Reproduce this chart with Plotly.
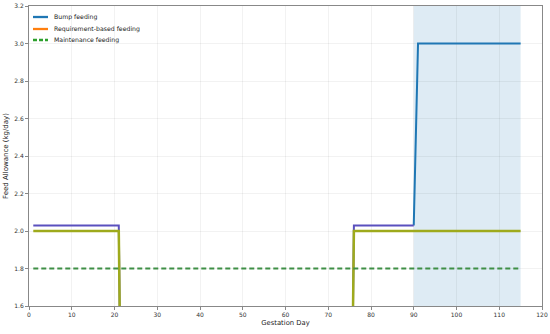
import plotly.graph_objects as go

# Data
bump_days = [1, 21, 22, 75, 76, 90, 91, 115]
bump_vals = [2.03, 2.03, 0.0, 0.0, 2.03, 2.03, 3.0, 3.0]
req_days = [1, 21, 22, 75, 76, 115]
req_vals = [2.0, 2.0, 0.0, 0.0, 2.0, 2.0]
maint_days = [1, 115]
maint_vals = [1.8, 1.8]
shade_start, shade_end = 90, 115
x_ticks = list(range(0, 121, 10))
y_ticks = [1.6, 1.8, 2.0, 2.2, 2.4, 2.6, 2.8, 3.0, 3.2]
series_names = ["Bump feeding", "Requirement-based feeding", "Maintenance feeding"]
legend_colors = ["#1f77b4", "#ff7f0e", "#2ca02c"]
legend_dash = ["solid", "solid", "4px,2px"]

FONT = "DejaVu Sans"
fig = go.Figure()

fig.add_vrect(x0=shade_start, x1=shade_end, fillcolor="rgba(31,119,180,0.15)",
              line_width=0, layer="below")

# data lines (colours as they appear in the reference image)
fig.add_trace(go.Scatter(x=bump_days[5:], y=bump_vals[5:], mode="lines",
                         line=dict(color="#1f77b4", width=2), showlegend=False))
fig.add_trace(go.Scatter(x=bump_days[:6], y=bump_vals[:6], mode="lines",
                         line=dict(color="#5a50be", width=2), showlegend=False))
fig.add_trace(go.Scatter(x=req_days, y=req_vals, mode="lines",
                         line=dict(color="#9eaa1c", width=2.5), showlegend=False))
fig.add_trace(go.Scatter(x=maint_days, y=maint_vals, mode="lines",
                         line=dict(color="#3f8f46", width=1.8, dash="5px,3px"),
                         showlegend=False))

# compact legend drawn in paper coordinates
row_y = [0.9633, 0.9233, 0.8867]
for name, col, dash, yy in zip(series_names, legend_colors, legend_dash, row_y):
    fig.add_shape(type="line", xref="paper", yref="paper", x0=0.0078, x1=0.037,
                  y0=yy, y1=yy, line=dict(color=col, width=2.3, dash=dash))
    fig.add_annotation(xref="paper", yref="paper", x=0.0448, y=yy, text=name,
                       showarrow=False, xanchor="left", yanchor="middle",
                       font=dict(family=FONT, size=6.2, color="#222222"))

axis_common = dict(showline=True, linecolor="#888888", linewidth=1, mirror=True,
                   ticks="outside", ticklen=3, tickcolor="#888888", automargin=False,
                   showgrid=True, gridcolor="rgba(0,0,0,0.05)", gridwidth=1,
                   zeroline=False, tickfont=dict(family=FONT, size=6, color="#333333"))

fig.update_layout(
    width=550, height=334,
    margin=dict(l=29, r=8, t=6, b=28),
    paper_bgcolor="white", plot_bgcolor="white",
    showlegend=False,
    xaxis=dict(range=[0, 120], tickvals=x_ticks,
               title=dict(text="Gestation Day", font=dict(family=FONT, size=6.8, color="#222"),
                          standoff=3),
               **axis_common),
    yaxis=dict(range=[1.6, 3.2], tickvals=y_ticks, tickformat=".1f",
               title=dict(text="Feed Allowance (kg/day)", font=dict(family=FONT, size=7, color="#222"),
                          standoff=4),
               **axis_common),
)

# remove the browser's default body margin so the figure fills the window
fig.write_html("out.html", config={"displayModeBar": False},
               post_script="document.body.style.margin='0';")
